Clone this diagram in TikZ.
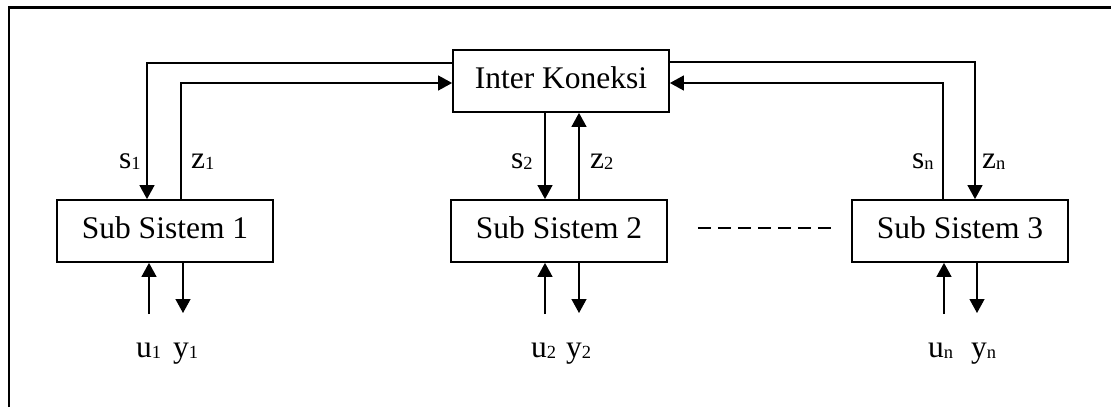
\documentclass[tikz,border=0pt]{standalone}
\usepackage{fontspec}
\setmainfont{Liberation Serif}
\usetikzlibrary{arrows.meta,calc}
\newcommand\subs[1]{{\fontsize{18.5}{18.5}\selectfont\raisebox{-1.5pt}{#1}}}
\tikzset{
 box/.style={draw, line width=1.8pt, minimum width=216pt, minimum height=62pt, inner sep=0pt,
   text height=21pt, text depth=6pt, font=\fontsize{31.5}{31.5}\selectfont},
 arr/.style={line width=1.3pt, -{Triangle[length=14pt,width=15pt]}},
 lbl/.style={inner sep=0pt, anchor=base west, font=\fontsize{31.5}{31.5}\selectfont},
 frame/.style={line width=2.2pt},
 dsh/.style={line width=1.3pt, dash pattern=on 13pt off 7pt}
}
\begin{document}
\begin{tikzpicture}[x=1pt,y=-1pt]
\useasboundingbox (0,0) rectangle (1111,407);
% frame
\draw[frame] (9,407) -- (9,7.5) -- (1111,7.5);
% boxes
\node[box] (ik) at (561,81) {Inter Koneksi};
\node[box] (ss1) at (165,231) {Sub Sistem 1};
\node[box] (ss2) at (559,231) {Sub Sistem 2};
\node[box] (ss3) at (960,231) {Sub Sistem 3};
% left loop
\draw[arr] (ik.west |- 0,63) -| (147,0 |- ss1.north);
\draw[arr] (181,0 |- ss1.north) |- (ik.west |- 0,83);
% right loop
\draw[arr] (ik.east |- 0,62) -| (975,0 |- ss3.north);
\draw[arr] (943,0 |- ss3.north) |- (ik.east |- 0,83);
% middle
\draw[arr] (545,0 |- ik.south) -- (545,0 |- ss2.north);
\draw[arr] (579,0 |- ss2.north) -- (579,0 |- ik.south);
% inputs / outputs
\coordinate (u1) at (149,314);
\coordinate (y1) at (183,313);
\coordinate (u2) at (545,314);
\coordinate (y2) at (579,313);
\coordinate (un) at (944,314);
\coordinate (yn) at (977,313);
\draw[arr] (u1) -- (u1 |- ss1.south);
\draw[arr] (y1 |- ss1.south) -- (y1);
\draw[arr] (u2) -- (u2 |- ss2.south);
\draw[arr] (y2 |- ss2.south) -- (y2);
\draw[arr] (un) -- (un |- ss3.south);
\draw[arr] (yn |- ss3.south) -- (yn);
% dashed
\draw[dsh] ([xshift=30pt,yshift=3pt]ss2.east) -- ([xshift=-19pt,yshift=3pt]ss3.west);
% labels
\node[lbl] (ls1) at (119,168) {s\subs{1}};
\node[lbl] (lz1) at (191,168) {z\subs{1}};
\node[lbl] (ls2) at (511,168) {s\subs{2}};
\node[lbl] (lz2) at (590,168) {z\subs{2}};
\node[lbl] (lsn) at (912,168) {s\subs{n}};
\node[lbl] (lzn) at (982,168) {z\subs{n}};
\node[lbl] (lu1) at (136,357) {u\subs{1}};
\node[lbl] (ly1) at (173,357) {y\subs{1}};
\node[lbl] (lu2) at (531,357) {u\subs{2}};
\node[lbl] (ly2) at (566,357) {y\subs{2}};
\node[lbl] (lun) at (928,357) {u\subs{n}};
\node[lbl] (lyn) at (971,357) {y\subs{n}};
\end{tikzpicture}
\end{document}
